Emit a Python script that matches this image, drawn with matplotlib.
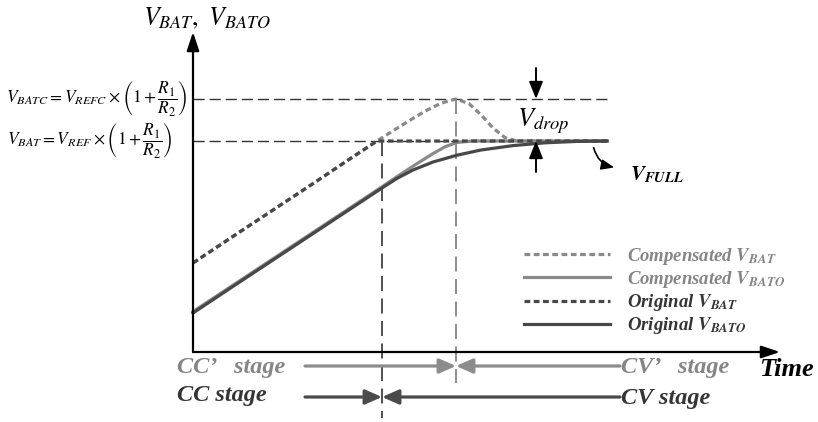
import matplotlib
matplotlib.use("Agg")
import matplotlib.pyplot as plt
from matplotlib.patches import FancyArrowPatch

plt.rcParams['font.family'] = ['Liberation Serif', 'DejaVu Serif']
plt.rcParams['mathtext.fontset'] = 'stix'

# reference levels (arbitrary voltage units) and stage boundaries (time units)
v_batc = 63.25
v_bat_ref = 52.75
t_cc = 47.25       # CC -> CV, original loop
t_cc_comp = 65.75  # CC' -> CV', compensated loop
t_end = 103.5

# compensated battery voltage (overshoots to V_BATC, then drops back)
comp_vbat_t = [0, 10, 20, 30, 40, 46, 50, 54, 58, 62, 65.75, 69, 72, 75, 78, 81, t_end]
comp_vbat_v = [22.25, 28.9, 35.5, 42.1, 48.8, 52.75, 55.3, 57.8, 60.2, 62.2, 63.25,
               62.1, 59.3, 56.0, 53.6, 52.75, 52.75]

# compensated battery-side output voltage
comp_vbato_t = [0, 10, 20, 30, 40, 47.25, 52, 56, 60, 63, 66, 70, t_end]
comp_vbato_v = [10.1, 16.7, 23.3, 29.9, 36.5, 41.3, 44.5, 47.1, 49.6, 51.3, 52.4, 52.75, 52.75]

# original battery voltage (clamped at V_BAT)
orig_vbat_t = [0, 10, 20, 30, 40, 46, t_end]
orig_vbat_v = [22.25, 28.9, 35.5, 42.1, 48.8, 52.75, 52.75]

# original battery-side output voltage
orig_vbato_t = [0, 10, 20, 30, 40, 47.25, 51, 55, 60, 66, 72, 80, 88, 96, t_end]
orig_vbato_v = [9.75, 16.4, 23.0, 29.6, 36.2, 41.0, 43.4, 45.5, 47.5, 49.2, 50.5,
                51.6, 52.3, 52.65, 52.75]

gray = '#8a8a8a'
dark = '#484848'
txt_gray = '#858585'
txt_dark = '#353535'

fig = plt.figure(figsize=(8.18, 4.22), dpi=100)
ax = fig.add_axes([0, 0, 1, 1])
ax.set_xlim(-48.25, 156.25)
ax.set_ylim(-17.5, 88)
ax.axis('off')

# guide lines
guide = dict(color='#333333', lw=1.0, dashes=(8, 3.6))
ax.plot([0, t_end], [v_batc, v_batc], **guide)
ax.plot([0, t_end], [v_bat_ref, v_bat_ref], **guide)
ax.plot([t_cc, t_cc], [v_bat_ref, -16.5], color='#333333', lw=1.2, dashes=(9, 4.5))
ax.plot([t_cc_comp, t_cc_comp], [v_batc, -7.75], color='#7a7a7a', lw=1.2, dashes=(9, 4.5))

# curves
lw = 2.3
ax.plot(comp_vbat_t, comp_vbat_v, color=gray, lw=lw, dashes=(1.8, 1.1),
        label=r'Compensated $\mathbfit{V}_{\mathbfit{BAT}}$')
ax.plot(comp_vbato_t, comp_vbato_v, color=gray, lw=lw,
        label=r'Compensated $\mathbfit{V}_{\mathbfit{BATO}}$', zorder=2)
ax.plot(orig_vbat_t, orig_vbat_v, color=dark, lw=lw, dashes=(1.8, 1.1),
        label=r'Original $\mathbfit{V}_{\mathbfit{BAT}}$')
ax.plot(orig_vbato_t, orig_vbato_v, color=dark, lw=lw,
        label=r'Original $\mathbfit{V}_{\mathbfit{BATO}}$', zorder=3)

# axes with arrow heads
axis_arrow = dict(arrowstyle='-|>,head_length=0.75,head_width=0.25', color='black',
                  lw=1.6, mutation_scale=15, shrinkA=0, shrinkB=0)
ax.annotate('', xy=(0, 80), xytext=(0, 0), arrowprops=axis_arrow)
ax.annotate('', xy=(146.75, 0), xytext=(0, 0), arrowprops=axis_arrow)

ax.text(3.4, 83.5, r'$V_{BAT},\ V_{BATO}$', fontsize=18.5, ha='center', va='center')
ax.text(141.5, -4.4, 'Time', fontsize=19, fontweight='bold', fontstyle='italic',
        ha='left', va='center')

eq_font = dict(fontsize=12.5, ha='right', va='center')
ax.text(-1.4, v_batc, r'$V_{BATC}=V_{REFC}\times\left(1+\dfrac{R_1}{R_2}\right)$', **eq_font)
ax.text(-5.2, v_bat_ref, r'$V_{BAT}=V_{REF}\times\left(1+\dfrac{R_1}{R_2}\right)$', **eq_font)

# V_drop marker
small_arrow = dict(arrowstyle='-|>,head_length=0.7,head_width=0.28', color='black',
                   lw=1.4, mutation_scale=15, shrinkA=0, shrinkB=0)
ax.annotate('', xy=(85.75, v_batc), xytext=(85.75, 71), arrowprops=small_arrow)
ax.annotate('', xy=(85.75, v_bat_ref), xytext=(85.75, 45), arrowprops=small_arrow)
ax.text(87.6, 57.8, r'$V_{drop}$', fontsize=19, ha='center', va='center')

# V_FULL pointer
ax.add_patch(FancyArrowPatch((100, 51.75), (106, 46.0), connectionstyle='arc3,rad=0.35',
                             arrowstyle='-|>,head_length=0.55,head_width=0.22',
                             mutation_scale=14, color='black', lw=1.2))
ax.text(109.25, 44.2, r'$\mathbfit{V}_{\mathbfit{FULL}}$', fontsize=15, ha='left', va='center')

# stage arrows
def stage(y, t_split, color):
    sty = dict(arrowstyle='-|>,head_length=0.5,head_width=0.22', color=color,
               lw=2.3, mutation_scale=20, shrinkA=0, shrinkB=0)
    ax.annotate('', xy=(t_split, y), xytext=(28, y), arrowprops=sty)
    ax.annotate('', xy=(t_split, y), xytext=(106.75, y), arrowprops=sty)

stage(-3.5, t_cc_comp, '#8c8c8c')
stage(-11.25, t_cc, '#4a4a4a')

stage_font = dict(fontsize=17.5, fontweight='bold', fontstyle='italic', va='center')
ax.text(-4, -3.9, 'CC’   stage', color=txt_gray, ha='left', **stage_font)
ax.text(107, -3.9, 'CV’   stage', color=txt_gray, ha='left', **stage_font)
ax.text(-4, -10.9, 'CC stage', color=txt_dark, ha='left', **stage_font)
ax.text(107, -11.7, 'CV stage', color=txt_dark, ha='left', **stage_font)

leg = ax.legend(loc='upper left', bbox_to_anchor=(0.640, 0.418), frameon=False,
                handlelength=4.6, handletextpad=0.9, labelspacing=0.12,
                borderaxespad=0, borderpad=0,
                prop=dict(family='Liberation Serif', weight='bold', style='italic', size=13.5),
                labelcolor=[txt_gray, txt_gray, txt_dark, txt_dark])

fig.savefig('out.png', dpi=100)
